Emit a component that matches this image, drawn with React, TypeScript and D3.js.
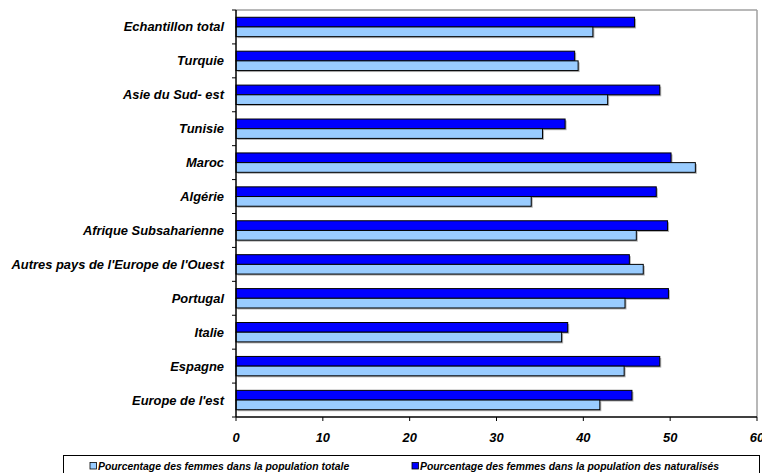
import React from "react";
import * as d3 from "d3";

const categories = [
  "Echantillon total",
  "Turquie",
  "Asie du Sud- est",
  "Tunisie",
  "Maroc",
  "Algérie",
  "Afrique Subsaharienne",
  "Autres pays de l'Europe de l'Ouest",
  "Portugal",
  "Italie",
  "Espagne",
  "Europe de l'est",
];

// Pourcentage des femmes dans la population des naturalisés
const naturalises = [45.9, 39.0, 48.8, 37.9, 50.1, 48.4, 49.7, 45.3, 49.8, 38.2, 48.8, 45.6];
// Pourcentage des femmes dans la population totale
const totale = [41.1, 39.4, 42.8, 35.3, 52.9, 34.0, 46.1, 46.9, 44.8, 37.5, 44.7, 41.9];

const xTicks = [0, 10, 20, 30, 40, 50, 60];
const seriesNames = [
  "Pourcentage des femmes dans la population totale",
  "Pourcentage des femmes dans la population des naturalisés",
];

const W = 762;
const H = 473;
const FONT = "'Liberation Sans', Arial, sans-serif";
const DARK = "#0000ff";
const LIGHT = "#99ccff";

export default function App() {
  const left = 236;
  const right = 757;
  const top = 10;
  const bottom = 417;

  const x = d3.scaleLinear().domain([0, 60]).range([left, right]);
  const y = d3.scaleBand<string>().domain(categories).range([top, bottom]);
  const groupH = y.bandwidth() / 1.75;
  const barH = groupH / 2;

  const bar = (i: number, v: number, k: number, fill: string) => {
    const y0 = (y(categories[i]) as number) + (y.bandwidth() - groupH) / 2 + k * barH;
    const w = x(v) - x(0);
    return (
      <g key={`${k}-${i}`}>
        <rect x={x(0) + 1.5} y={y0 + 1.5} width={w} height={barH} fill="#b0b0b0" />
        <rect x={x(0)} y={y0} width={w} height={barH} fill={fill} stroke="#000" strokeWidth={1} />
      </g>
    );
  };

  return (
    <svg width={W} height={H} style={{ position: "absolute", left: 0, top: 0, background: "#fff" }}>
      {/* plot frame */}
      <line x1={left} x2={right} y1={top} y2={top} stroke="#a0a0a0" strokeWidth={1.5} />
      <line x1={right} x2={right} y1={top} y2={bottom} stroke="#a0a0a0" strokeWidth={1.5} />

      {categories.map((c, i) => bar(i, naturalises[i], 0, DARK))}
      {categories.map((c, i) => bar(i, totale[i], 1, LIGHT))}

      {/* y axis */}
      <line x1={left} x2={left} y1={top} y2={bottom} stroke="#000" strokeWidth={1.5} />
      {d3.range(categories.length + 1).map((i) => {
        const yy = top + i * y.step();
        return <line key={i} x1={left - 4} x2={left} y1={yy} y2={yy} stroke="#000" />;
      })}
      {categories.map((c) => (
        <text
          key={c}
          x={224}
          y={(y(c) as number) + y.bandwidth() / 2}
          dy="0.35em"
          textAnchor="end"
          fontFamily={FONT}
          fontSize={12.9}
          fontWeight="bold"
          fontStyle="italic"
          fill="#000"
        >
          {c}
        </text>
      ))}

      {/* x axis */}
      <line x1={left} x2={right} y1={bottom} y2={bottom} stroke="#000" strokeWidth={1.5} />
      {xTicks.map((t) => (
        <g key={t}>
          <line x1={x(t)} x2={x(t)} y1={bottom} y2={bottom + 4} stroke="#000" />
          <text
            x={x(t)}
            y={437}
            dy="0.35em"
            textAnchor="middle"
            fontFamily={FONT}
            fontSize={12.9}
            fontWeight="bold"
            fontStyle="italic"
            fill="#000"
          >
            {t}
          </text>
        </g>
      ))}

      {/* legend */}
      <rect x={63.5} y={455.5} width={696} height={30} fill="#fff" stroke="#000" strokeWidth={1} />
      {[
        { name: seriesNames[0], color: LIGHT, sx: 90 },
        { name: seriesNames[1], color: DARK, sx: 412 },
      ].map((s) => (
        <g key={s.name}>
          <rect x={s.sx} y={462.5} width={6.5} height={6.5} fill={s.color} stroke="#000" strokeWidth={0.8} />
          <text
            x={s.sx + 8}
            y={466}
            dy="0.35em"
            fontFamily={FONT}
            fontSize={10.4}
            fontWeight="bold"
            fontStyle="italic"
            fill="#000"
          >
            {s.name}
          </text>
        </g>
      ))}
    </svg>
  );
}
